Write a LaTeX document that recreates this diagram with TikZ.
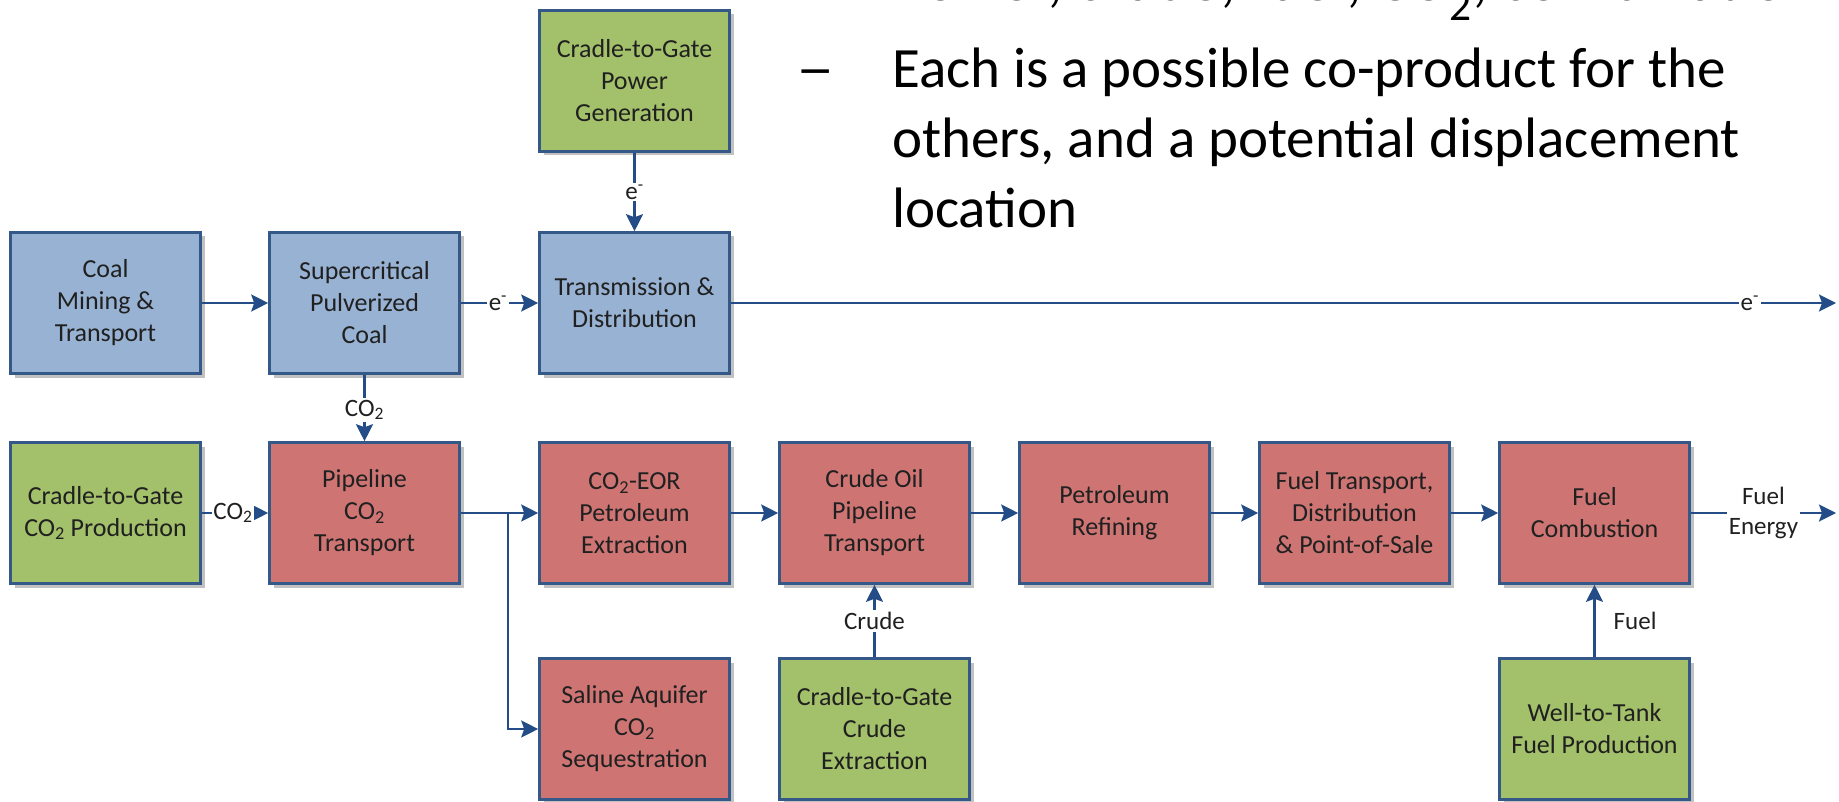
\documentclass[tikz,border=0pt]{standalone}
\usepackage{fontspec}
\setmainfont{Carlito}
\usetikzlibrary{arrows.meta,shadows}

\definecolor{boxblue}{RGB}{152,178,211}
\definecolor{boxred}{RGB}{206,117,116}
\definecolor{boxgreen}{RGB}{163,192,106}
\definecolor{boxline}{RGB}{52,88,136}
\definecolor{flowcol}{RGB}{36,77,136}
\definecolor{txt}{RGB}{32,32,32}

\tikzset{
  proc/.style={draw=boxline, line width=2.6pt, minimum width=190pt, minimum height=141pt,
    align=center, inner sep=2pt, text=txt, font=\fontsize{26}{32}\selectfont,
    drop shadow={shadow xshift=4pt, shadow yshift=-4pt, fill=black!35, opacity=.7}},
  coalbox/.style={proc, fill=boxblue},
  oilbox/.style={proc, fill=boxred},
  srcbox/.style={proc, fill=boxgreen},
  flow/.style={draw=flowcol, line width=2.4pt,
    -{Stealth[length=17pt, width=17pt, inset=3pt]}},
  lbl/.style={fill=white, inner sep=2pt, text=txt, font=\fontsize{25}{30}\selectfont, align=center},
  bullet/.style={anchor=base west, inner sep=0pt, text=black, font=\fontsize{57}{70}\selectfont}
}

\begin{document}
\begin{tikzpicture}[x=1pt, y=-1pt]
\useasboundingbox (0,0) rectangle (1839,802);
\clip (0,0) rectangle (1839,802);

% slide text at the top right
\node[bullet, font=\fontsize{62}{74}\selectfont] (t0) at (893,1) {Power, crude, fuel, CO\textsubscript{2}, combination};
\node[bullet] (dash) at (796,88) {\scalebox{1.35}[1]{–}};
\node[bullet] (t1) at (892,88) {Each is a possible co-product for the};
\node[bullet] (t2) at (892,158) {others, and a potential displacement};
\node[bullet] (t3) at (892,228) {location};

% process boxes
\node[srcbox]  (pgen)  at (634.5,81)  {Cradle-to-Gate\\Power\\Generation};
\node[coalbox] (coal)  at (105.5,303) {Coal\\Mining \&\\Transport};
\node[coalbox] (super) at (364.5,303) {Supercritical\\Pulverized\\Coal};
\node[coalbox] (trans) at (634.5,303) {Transmission \&\\Distribution};

\node[srcbox]  (co2p)  at (105.5,513)  {Cradle-to-Gate\\CO\textsubscript{2} Production};
\node[oilbox]  (pipe)  at (364.5,513)  {Pipeline\\CO\textsubscript{2}\\Transport};
\node[oilbox]  (eor)   at (634.5,513)  {CO\textsubscript{2}-EOR\\Petroleum\\Extraction};
\node[oilbox]  (crude) at (874.5,513)  {Crude Oil\\Pipeline\\Transport};
\node[oilbox]  (refin) at (1114.5,513) {Petroleum\\Refining};
\node[oilbox]  (ftran) at (1354.5,513) {Fuel Transport,\\Distribution\\\& Point-of-Sale};
\node[oilbox]  (comb)  at (1594.5,513) {Fuel\\Combustion};

\node[oilbox]  (saline) at (634.5,729)  {Saline Aquifer\\CO\textsubscript{2}\\Sequestration};
\node[srcbox]  (cext)   at (874.5,729)  {Cradle-to-Gate\\Crude\\Extraction};
\node[srcbox]  (wtt)    at (1594.5,729) {Well-to-Tank\\Fuel Production};

% free ends and branch point
\coordinate (eout) at (1836,303);
\coordinate (fout) at (1836,513);
\coordinate (split) at (508,513);

% electricity chain
\draw[flow] (coal) -- (super);
\draw[flow] (super) -- node[lbl, pos=.48] {e\textsuperscript{-}} (trans);
\draw[flow] (pgen) -- node[lbl, pos=.5] {e\textsuperscript{-}} (trans);
\draw[flow] (trans) -- node[lbl, pos=.922] {e\textsuperscript{-}} (eout);

% CO2 supply
\draw[flow] (super) -- node[lbl, pos=.53] {CO\textsubscript{2}} (pipe);
\draw[flow] (co2p) -- node[lbl, pos=.47, inner sep=1pt] {CO\textsubscript{2}} (pipe);
\draw[flow] (pipe) -- (eor);
\draw[flow] (split) |- (saline);

% petroleum chain
\draw[flow] (eor) -- (crude);
\draw[flow] (crude) -- (refin);
\draw[flow] (refin) -- (ftran);
\draw[flow] (ftran) -- (comb);
\draw[flow] (comb) -- node[lbl, pos=.5] {Fuel\\Energy} (fout);
\draw[flow] (cext) -- node[lbl, pos=.5] {Crude} (crude);
\draw[flow] (wtt) -- node[right, pos=.5, xshift=16pt, inner sep=2pt, text=txt,
  font=\fontsize{25}{30}\selectfont] {Fuel} (comb);
\end{tikzpicture}
\end{document}
